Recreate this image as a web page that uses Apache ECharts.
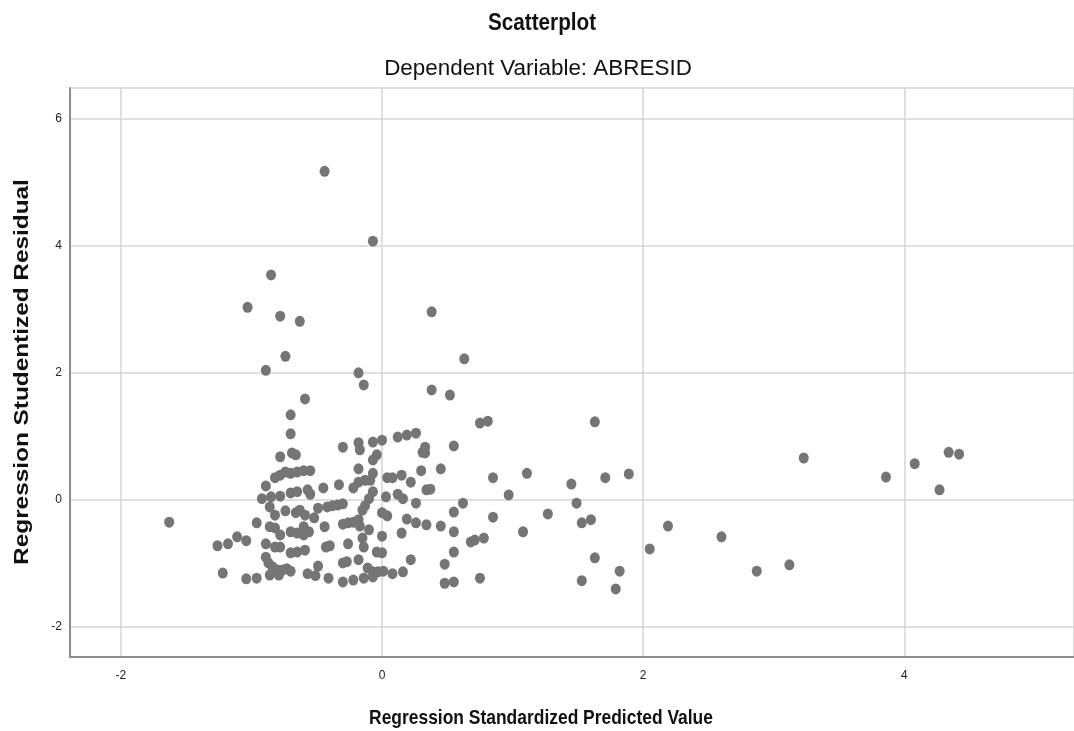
<!DOCTYPE html>
<html><head><meta charset="utf-8">
<script src="https://cdn.jsdelivr.net/npm/echarts@6/dist/echarts.min.js"></script>
<style>html,body{margin:0;padding:0;background:#fff}#c{width:1074px;height:731px}</style>
</head><body><div id="c"></div>
<script>
const chartTitle = "Scatterplot";
const chartSubtitle = "Dependent Variable: ABRESID";
const xAxisTitle = "Regression Standardized Predicted Value";
const yAxisTitle = "Regression Studentized Residual";
const xTickLabels = ["-2", "0", "2", "4"];
const yTickLabels = ["-2", "0", "2", "4", "6"];

// Regression standardized predicted values
const predicted = [
-0.70,-0.70,-0.78,-0.69,-0.66,-0.82,-0.78,-0.74,-0.70,-0.65,
-0.89,-0.92,-0.85,-0.78,-0.70,-0.65,-0.86,-0.82,-0.74,-0.66,
-1.63,-0.96,-0.86,-0.82,-0.78,-0.70,-0.65,-1.26,-1.18,-1.11,
-1.04,-0.89,-0.82,-0.78,-0.70,-0.65,-0.89,-0.87,-0.84,-0.80,
-0.76,-0.73,-0.70,-0.86,-0.79,-1.22,-1.04,-0.96,
0.75,0.81,-0.30,-0.18,-0.17,-0.07,0.00,0.12,0.19,0.26,
0.31,0.33,0.33,0.55,-0.07,-0.04,-0.18,-0.07,-0.09,-0.13,
-0.18,-0.22,0.04,0.08,0.15,0.22,0.30,0.45,0.34,0.37,
0.85,-0.60,-0.55,-0.45,-0.33,-0.57,-0.55,-0.07,-0.10,-0.13,
-0.15,0.03,0.12,0.16,0.26,0.62,0.55,0.85,-0.63,-0.59,
-0.49,-0.42,-0.38,-0.34,-0.30,-0.52,0.00,0.04,0.19,0.26,
0.34,0.45,0.55,-0.30,-0.26,-0.22,-0.18,-0.17,-0.44,-0.60,
-0.56,-0.60,-0.10,0.00,0.15,-0.15,-0.14,0.68,0.71,0.78,
-0.43,-0.40,-0.26,-0.59,-0.04,0.00,0.55,-0.30,-0.27,-0.18,
0.22,-0.49,0.48,-0.11,-0.07,-0.03,0.01,0.08,0.16,-0.57,
-0.51,-0.41,-0.30,-0.22,-0.14,-0.07,0.48,0.55,0.75,
1.63,1.11,0.97,1.45,1.71,1.89,1.27,1.49,1.53,1.60,
1.08,2.05,2.19,1.63,1.82,1.53,1.79,
-0.44,-0.07,-0.85,-1.03,-0.78,-0.63,0.38,-0.74,0.63,-0.89,
-0.18,-0.14,0.38,0.52,-0.59,
3.23,2.60,2.87,3.12,3.86,4.08,4.27,4.34,4.42
];

// Regression studentized residuals
const residual = [
1.34,1.04,0.68,0.74,0.71,0.35,0.39,0.44,0.42,0.44,
0.22,0.02,0.05,0.06,0.11,0.13,-0.11,-0.24,-0.17,-0.20,
-0.35,-0.36,-0.42,-0.44,-0.55,-0.50,-0.52,-0.72,-0.69,-0.58,
-0.64,-0.69,-0.74,-0.74,-0.83,-0.82,-0.90,-0.99,-1.05,-1.10,
-1.10,-1.08,-1.12,-1.18,-1.18,-1.15,-1.24,-1.23,
1.21,1.24,0.83,0.90,0.79,0.91,0.94,0.99,1.02,1.05,
0.75,0.83,0.74,0.85,0.63,0.71,0.49,0.42,0.31,0.31,
0.28,0.19,0.35,0.35,0.39,0.28,0.46,0.49,0.16,0.17,
0.35,0.46,0.46,0.19,0.24,0.16,0.09,0.13,0.02,-0.09,
-0.16,0.05,0.09,0.02,-0.05,-0.05,-0.19,-0.27,-0.16,-0.24,
-0.13,-0.11,-0.09,-0.08,-0.06,-0.28,-0.20,-0.25,-0.30,-0.36,
-0.39,-0.41,-0.50,-0.38,-0.36,-0.35,-0.31,-0.41,-0.42,-0.42,
-0.50,-0.55,-0.47,-0.57,-0.52,-0.60,-0.74,-0.66,-0.63,-0.60,
-0.74,-0.72,-0.69,-0.79,-0.82,-0.83,-0.82,-0.99,-0.97,-0.94,
-0.94,-1.04,-1.01,-1.07,-1.13,-1.13,-1.12,-1.16,-1.13,-1.16,
-1.19,-1.23,-1.29,-1.26,-1.23,-1.21,-1.31,-1.29,-1.23,
1.23,0.42,0.08,0.25,0.35,0.41,-0.22,-0.05,-0.36,-0.31,
-0.50,-0.77,-0.41,-0.91,-1.12,-1.27,-1.40,
5.17,4.07,3.54,3.03,2.89,2.81,2.96,2.26,2.22,2.04,
2.00,1.81,1.73,1.65,1.59,
0.66,-0.58,-1.12,-1.02,0.36,0.57,0.16,0.75,0.72
];

const points = predicted.map((x, i) => [x, residual[i]]);

const chart = echarts.init(document.getElementById('c'), null, {renderer: 'canvas'});
const tickFmt = (labels) => (v) => {
  const s = String(Math.round(v * 1000) / 1000);
  return labels.indexOf(s) >= 0 ? s : '';
};
const FONT = 'Liberation Sans, Arial, sans-serif';
chart.setOption({
  animation: false,
  backgroundColor: '#ffffff',
  grid: {left: 70, right: 0, top: 88, bottom: 74, containLabel: false},
  xAxis: {
    type: 'value', min: -2.39, max: 5.3, splitNumber: 4,
    axisLine: {show: true, onZero: false, lineStyle: {color: '#8c8c8c', width: 2}},
    axisTick: {show: false},
    axisLabel: {formatter: tickFmt(xTickLabels), margin: 13, fontFamily: FONT, fontSize: 12, color: '#222', showMinLabel: false, showMaxLabel: false},
    splitLine: {show: true, lineStyle: {color: '#d4d4d4', width: 1.5}}
  },
  yAxis: {
    type: 'value', min: -2.47, max: 6.48, splitNumber: 5,
    axisLine: {show: true, onZero: false, lineStyle: {color: '#8c8c8c', width: 2}},
    axisTick: {show: false},
    axisLabel: {formatter: tickFmt(yTickLabels), margin: 8, fontFamily: FONT, fontSize: 12, color: '#222', showMinLabel: false, showMaxLabel: false},
    splitLine: {show: true, lineStyle: {color: '#d4d4d4', width: 1.5}}
  },
  graphic: [
    {type: 'text', x: 542, y: 24, scaleX: 0.9, silent: true,
     style: {text: chartTitle, font: 'bold 23px ' + FONT, fill: '#111', textAlign: 'center', textVerticalAlign: 'middle'}},
    {type: 'text', x: 538, y: 69, scaleX: 1.02, silent: true,
     style: {text: chartSubtitle, font: '22px ' + FONT, fill: '#111', textAlign: 'center', textVerticalAlign: 'middle'}},
    {type: 'text', x: 541, y: 718, scaleX: 0.83, silent: true,
     style: {text: xAxisTitle, font: 'bold 21px ' + FONT, fill: '#111', textAlign: 'center', textVerticalAlign: 'middle'}},
    {type: 'text', x: 22, y: 372, rotation: Math.PI / 2, scaleX: 1.16, silent: true,
     style: {text: yAxisTitle, font: 'bold 21px ' + FONT, fill: '#111', textAlign: 'center', textVerticalAlign: 'middle'}}
  ],
  series: [{
    type: 'scatter',
    data: points,
    symbol: 'circle',
    symbolSize: [10, 11],
    itemStyle: {color: '#757575', opacity: 1},
    emphasis: {disabled: true}
  }]
});
</script>
</body></html>
